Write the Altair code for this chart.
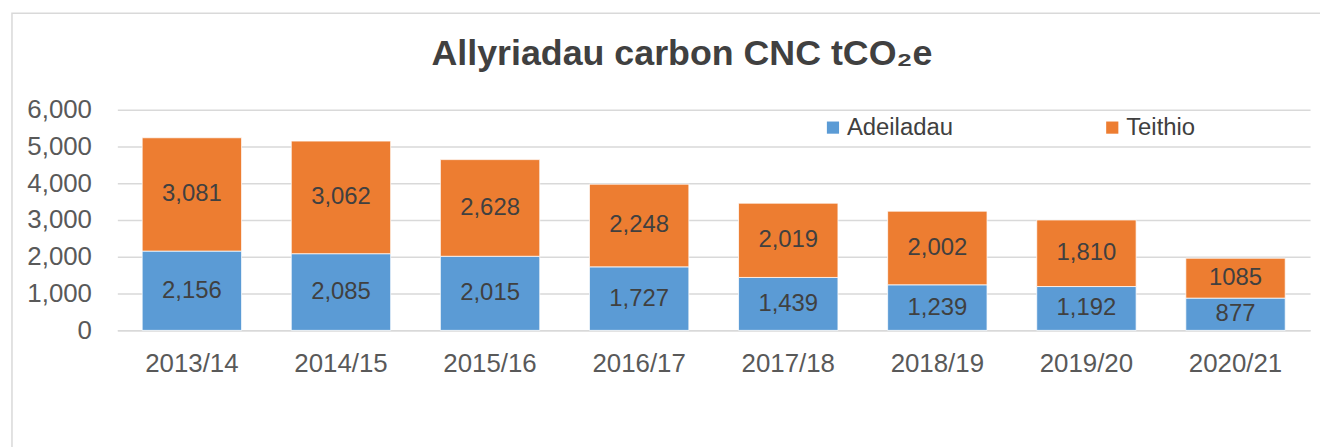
import altair as alt
import pandas as pd

years = ["2013/14", "2014/15", "2015/16", "2016/17", "2017/18", "2018/19", "2019/20", "2020/21"]
adeiladau = [2156, 2085, 2015, 1727, 1439, 1239, 1192, 877]
teithio = [3081, 3062, 2628, 2248, 2019, 2002, 1810, 1085]
adeiladau_labels = ["2,156", "2,085", "2,015", "1,727", "1,439", "1,239", "1,192", "877"]
teithio_labels = ["3,081", "3,062", "2,628", "2,248", "2,019", "2,002", "1,810", "1085"]
series = ["Adeiladau", "Teithio"]
colors = ["#5B9BD5", "#ED7D31"]
y_ticks = [0, 1000, 2000, 3000, 4000, 5000, 6000]

rows = []
for i, yr in enumerate(years):
    rows.append({"year": yr, "series": series[0], "o": 0, "value": adeiladau[i], "label": adeiladau_labels[i]})
    rows.append({"year": yr, "series": series[1], "o": 1, "value": teithio[i], "label": teithio_labels[i]})
df = pd.DataFrame(rows)

FONT = "Liberation Sans, Arial, sans-serif"

base = alt.Chart(df).transform_stack(
    stack="value", groupby=["year"], sort=[alt.SortField("o", order="ascending")], as_=["y0", "y1"]
).transform_calculate(mid="(datum.y0 + datum.y1) / 2")

xaxis = alt.Axis(labelAngle=0, labelFontSize=26, labelColor="#595959", labelFont=FONT,
                 ticks=False, tickSize=0, labelPadding=20, domainColor="#d9d9d9",
                 domainWidth=1.5, grid=False)
yaxis = alt.Axis(values=y_ticks, labelExpr="format(datum.value, ',')", labelOverlap=False,
                 labelFontSize=26, labelColor="#595959", labelFont=FONT,
                 ticks=False, tickSize=0, domain=False, labelPadding=26,
                 gridColor="#d9d9d9", gridWidth=1.5)
xscale = alt.Scale(paddingInner=1/3, paddingOuter=1/6)
yscale = alt.Scale(domain=[0, 6000])

bars = base.mark_bar(stroke="white", strokeWidth=0.75).encode(
    x=alt.X("year:N", sort=years, title=None, scale=xscale, axis=xaxis),
    y=alt.Y("y0:Q", title=None, scale=yscale, axis=yaxis),
    y2="y1:Q",
    color=alt.Color("series:N", scale=alt.Scale(domain=series, range=colors),
                    legend=alt.Legend(title=None, orient="none", legendX=708, legendY=6,
                                      direction="horizontal", symbolType="square",
                                      symbolSize=150, symbolStrokeWidth=0,
                                      labelFontSize=24, labelColor="#404040", labelFont=FONT,
                                      labelOffset=2, columnPadding=148, padding=0)),
)

text = base.mark_text(fontSize=24, color="#404040", font=FONT).encode(
    x=alt.X("year:N", sort=years, title=None, scale=xscale, axis=xaxis),
    y=alt.Y("mid:Q", title=None, scale=yscale, axis=yaxis),
    text="label:N",
)

border = alt.Chart(pd.DataFrame({"a": [0]})).mark_rect(
    fillOpacity=0, stroke="#d9d9d9", strokeWidth=1.5
).encode(
    x=alt.value(-106), x2=alt.value(1225), y=alt.value(-97), y2=alt.value(350)
)

chart = alt.layer(border, bars, text).properties(
    width=1200, height=222,
    title=alt.TitleParams("Allyriadau carbon CNC tCO₂e", fontSize=36, font=FONT, fontWeight="bold",
                          color="#404040", anchor="middle", dx=-32, offset=-61),
    padding={"left": 110, "top": 101, "right": 10, "bottom": 116},
    autosize=alt.AutoSizeParams(type="none"),
).configure_view(stroke=None)

chart.save("out.html", embed_options={"renderer": "svg", "actions": False})
